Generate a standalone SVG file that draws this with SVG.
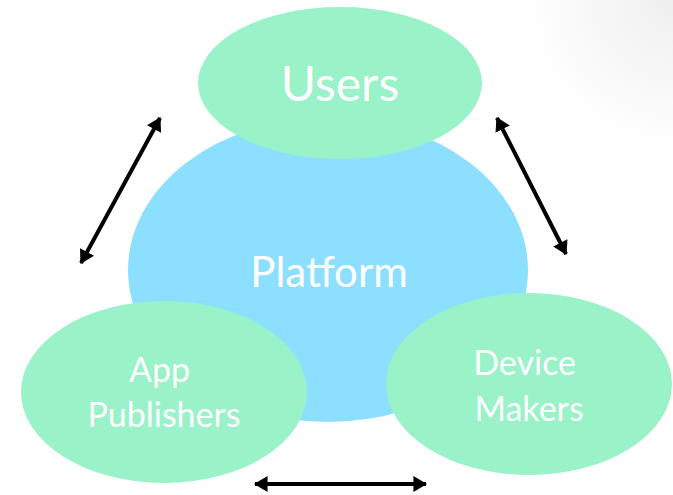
<svg xmlns="http://www.w3.org/2000/svg" width="673" height="495" viewBox="0 0 673 495">
  <defs>
    <radialGradient id="cornerShade" cx="673" cy="0" r="150" gradientUnits="userSpaceOnUse">
      <stop offset="0" stop-color="#efefef"/>
      <stop offset="1" stop-color="#ffffff"/>
    </radialGradient>
    <marker id="arrowHead" viewBox="0 0 12 14" refX="11" refY="7" markerUnits="userSpaceOnUse" markerWidth="14" markerHeight="16" orient="auto-start-reverse">
      <path d="M0,0 L12,7 L0,14 Z" fill="#000"/>
    </marker>
    <style>
      .side { fill: #99f2c8; }
      .core { fill: #8ddfff; }
      .label { fill: #ffffff; font-family: Lato, "Open Sans", "DejaVu Sans", sans-serif; text-anchor: middle; }
      .link { stroke: #000; stroke-width: 4; fill: none; marker-start: url(#arrowHead); marker-end: url(#arrowHead); }
    </style>
  </defs>

  <!-- background -->
  <rect width="673" height="495" fill="#ffffff"/>
  <rect width="673" height="495" fill="url(#cornerShade)"/>

  <!-- central platform -->
  <g id="platform">
    <ellipse class="core" cx="328" cy="270" rx="200" ry="152"/>
    <text class="label" x="329" y="287" font-size="42">Platform</text>
  </g>

  <!-- participant groups -->
  <g id="users">
    <ellipse class="side" cx="340" cy="83" rx="142" ry="76"/>
    <text class="label" x="340" y="101" font-size="48">Users</text>
  </g>

  <g id="app-publishers">
    <ellipse class="side" cx="164" cy="392" rx="143" ry="91"/>
    <text class="label" font-size="34">
      <tspan x="164" y="382">App</tspan>
      <tspan x="164" y="427">Publishers</tspan>
    </text>
  </g>

  <g id="device-makers">
    <ellipse class="side" cx="529" cy="384" rx="143" ry="91"/>
    <text class="label" font-size="34">
      <tspan x="529" y="375">Device</tspan>
      <tspan x="529" y="421">Makers</tspan>
    </text>
  </g>

  <!-- two-way relationships -->
  <g id="connectors">
    <line class="link" x1="160" y1="118" x2="81" y2="263"/>
    <line class="link" x1="497" y1="118" x2="566" y2="254"/>
    <line class="link" x1="255" y1="484" x2="426" y2="484"/>
  </g>
</svg>
